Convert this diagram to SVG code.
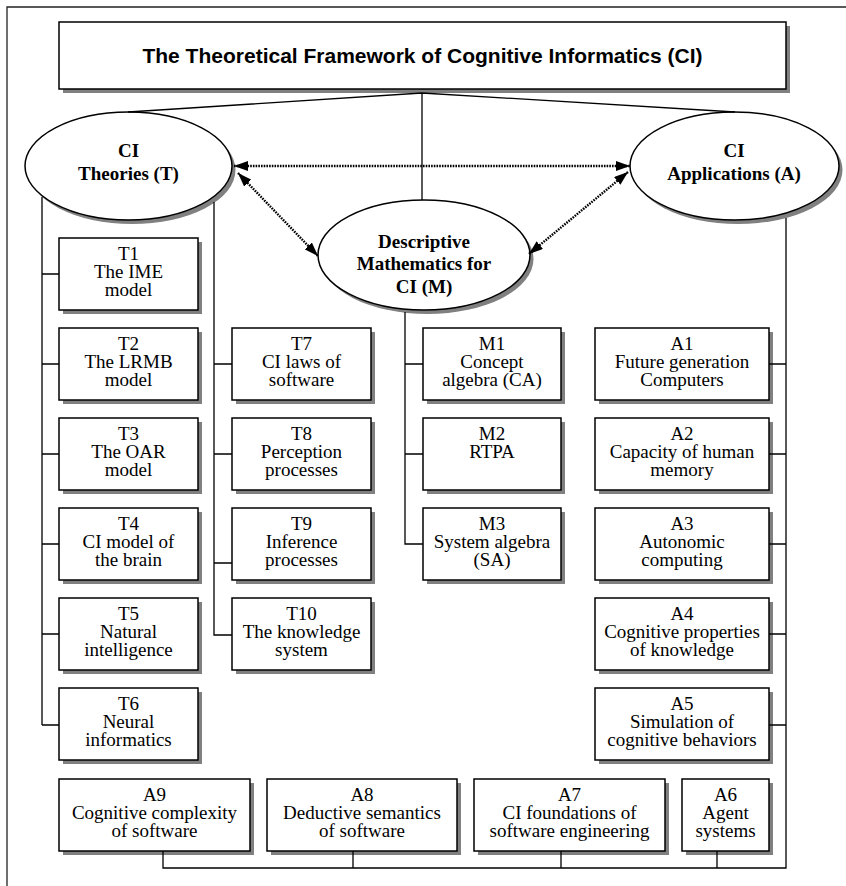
<svg xmlns="http://www.w3.org/2000/svg" width="846" height="886" viewBox="0 0 846 886">
<style>
.frame{fill:none;stroke:#222;stroke-width:1.3}
.box{fill:#fff;stroke:#000;stroke-width:1.5}
.shadow{fill:#808080;stroke:none}
.ell{fill:#fff;stroke:#000;stroke-width:1.5}
.line{fill:none;stroke:#000;stroke-width:1.3}
.dot{fill:none;stroke:#000;stroke-width:2.4;stroke-dasharray:1.6 1.1}
.title{font-family:"Liberation Sans",Arial,sans-serif;font-weight:bold;font-size:21px;text-anchor:middle;fill:#000}
.et{font-family:"Liberation Serif","Times New Roman",serif;font-weight:bold;font-size:19px;text-anchor:middle;fill:#000}
.bt{font-family:"Liberation Serif","Times New Roman",serif;font-size:19px;text-anchor:middle;fill:#000}
</style>
<defs>
<marker id="ah" viewBox="0 0 14 10" refX="14" refY="5" markerWidth="14" markerHeight="10" markerUnits="userSpaceOnUse" orient="auto-start-reverse">
<path d="M0,0 L14,5 L0,10 z" fill="#000"/>
</marker>
</defs>
<rect width="846" height="886" fill="#fff"/>
<path class="frame" d="M7,886 V7 H846"/>

<g id="title">
<rect class="shadow" x="63" y="26" width="727" height="67"/>
<rect class="box" x="59" y="22" width="727" height="67"/>
<text class="title" x="422.5" y="63">The Theoretical Framework of Cognitive Informatics (CI)</text>
</g>

<g id="theories">
<ellipse class="shadow" cx="132" cy="170" rx="103.5" ry="54"/>
<ellipse class="ell" cx="128.5" cy="166" rx="103.5" ry="54"/>
<text class="et" x="128.5" y="157">CI</text>
<text class="et" x="128.5" y="180">Theories (T)</text>
</g>

<g id="applications">
<ellipse class="shadow" cx="738" cy="170" rx="104.5" ry="54"/>
<ellipse class="ell" cx="734.5" cy="166" rx="104.5" ry="54"/>
<text class="et" x="734" y="157">CI</text>
<text class="et" x="734" y="180">Applications (A)</text>
</g>

<g id="mathematics">
<ellipse class="shadow" cx="427.5" cy="259" rx="106" ry="55"/>
<ellipse class="ell" cx="424" cy="255" rx="106" ry="55"/>
<text class="et" x="424" y="248">Descriptive</text>
<text class="et" x="424" y="270">Mathematics for</text>
<text class="et" x="424" y="293">CI (M)</text>
</g>

<g id="T1"><rect class="shadow" x="63" y="242" width="139" height="72"/><rect class="box" x="59" y="238" width="139" height="72"/>
<text class="bt" x="128.5" y="260">T1</text><text class="bt" x="128.5" y="278">The IME</text><text class="bt" x="128.5" y="296">model</text></g>
<g id="T2"><rect class="shadow" x="63" y="332" width="139" height="72"/><rect class="box" x="59" y="328" width="139" height="72"/>
<text class="bt" x="128.5" y="350">T2</text><text class="bt" x="128.5" y="368">The LRMB</text><text class="bt" x="128.5" y="386">model</text></g>
<g id="T3"><rect class="shadow" x="63" y="422" width="139" height="72"/><rect class="box" x="59" y="418" width="139" height="72"/>
<text class="bt" x="128.5" y="440">T3</text><text class="bt" x="128.5" y="458">The OAR</text><text class="bt" x="128.5" y="476">model</text></g>
<g id="T4"><rect class="shadow" x="63" y="512" width="139" height="72"/><rect class="box" x="59" y="508" width="139" height="72"/>
<text class="bt" x="128.5" y="530">T4</text><text class="bt" x="128.5" y="548">CI model of</text><text class="bt" x="128.5" y="566">the brain</text></g>
<g id="T5"><rect class="shadow" x="63" y="602" width="139" height="72"/><rect class="box" x="59" y="598" width="139" height="72"/>
<text class="bt" x="128.5" y="620">T5</text><text class="bt" x="128.5" y="638">Natural</text><text class="bt" x="128.5" y="656">intelligence</text></g>
<g id="T6"><rect class="shadow" x="63" y="692" width="139" height="72"/><rect class="box" x="59" y="688" width="139" height="72"/>
<text class="bt" x="128.5" y="710">T6</text><text class="bt" x="128.5" y="728">Neural</text><text class="bt" x="128.5" y="746">informatics</text></g>

<g id="T7"><rect class="shadow" x="236" y="332" width="139" height="72"/><rect class="box" x="232" y="328" width="139" height="72"/>
<text class="bt" x="301.5" y="350">T7</text><text class="bt" x="301.5" y="368">CI laws of</text><text class="bt" x="301.5" y="386">software</text></g>
<g id="T8"><rect class="shadow" x="236" y="422" width="139" height="72"/><rect class="box" x="232" y="418" width="139" height="72"/>
<text class="bt" x="301.5" y="440">T8</text><text class="bt" x="301.5" y="458">Perception</text><text class="bt" x="301.5" y="476">processes</text></g>
<g id="T9"><rect class="shadow" x="236" y="512" width="139" height="72"/><rect class="box" x="232" y="508" width="139" height="72"/>
<text class="bt" x="301.5" y="530">T9</text><text class="bt" x="301.5" y="548">Inference</text><text class="bt" x="301.5" y="566">processes</text></g>
<g id="T10"><rect class="shadow" x="236" y="602" width="139" height="72"/><rect class="box" x="232" y="598" width="139" height="72"/>
<text class="bt" x="301.5" y="620">T10</text><text class="bt" x="301.5" y="638">The knowledge</text><text class="bt" x="301.5" y="656">system</text></g>

<g id="M1"><rect class="shadow" x="427" y="332" width="138" height="72"/><rect class="box" x="423" y="328" width="138" height="72"/>
<text class="bt" x="492" y="350">M1</text><text class="bt" x="492" y="368">Concept</text><text class="bt" x="492" y="386">algebra (CA)</text></g>
<g id="M2"><rect class="shadow" x="427" y="422" width="138" height="72"/><rect class="box" x="423" y="418" width="138" height="72"/>
<text class="bt" x="492" y="440">M2</text><text class="bt" x="492" y="458">RTPA</text></g>
<g id="M3"><rect class="shadow" x="427" y="512" width="138" height="72"/><rect class="box" x="423" y="508" width="138" height="72"/>
<text class="bt" x="492" y="530">M3</text><text class="bt" x="492" y="548">System algebra</text><text class="bt" x="492" y="566">(SA)</text></g>

<g id="A1"><rect class="shadow" x="599" y="332" width="174" height="72"/><rect class="box" x="595" y="328" width="174" height="72"/>
<text class="bt" x="682" y="350">A1</text><text class="bt" x="682" y="368">Future generation</text><text class="bt" x="682" y="386">Computers</text></g>
<g id="A2"><rect class="shadow" x="599" y="422" width="174" height="72"/><rect class="box" x="595" y="418" width="174" height="72"/>
<text class="bt" x="682" y="440">A2</text><text class="bt" x="682" y="458">Capacity of human</text><text class="bt" x="682" y="476">memory</text></g>
<g id="A3"><rect class="shadow" x="599" y="512" width="174" height="72"/><rect class="box" x="595" y="508" width="174" height="72"/>
<text class="bt" x="682" y="530">A3</text><text class="bt" x="682" y="548">Autonomic</text><text class="bt" x="682" y="566">computing</text></g>
<g id="A4"><rect class="shadow" x="599" y="602" width="174" height="72"/><rect class="box" x="595" y="598" width="174" height="72"/>
<text class="bt" x="682" y="620">A4</text><text class="bt" x="682" y="638">Cognitive properties</text><text class="bt" x="682" y="656">of knowledge</text></g>
<g id="A5"><rect class="shadow" x="599" y="692" width="174" height="72"/><rect class="box" x="595" y="688" width="174" height="72"/>
<text class="bt" x="682" y="710">A5</text><text class="bt" x="682" y="728">Simulation of</text><text class="bt" x="682" y="746">cognitive behaviors</text></g>

<g id="A9"><rect class="shadow" x="63" y="783" width="191" height="72"/><rect class="box" x="59" y="779" width="191" height="72"/>
<text class="bt" x="154.5" y="801">A9</text><text class="bt" x="154.5" y="819">Cognitive complexity</text><text class="bt" x="154.5" y="837">of software</text></g>
<g id="A8"><rect class="shadow" x="271" y="783" width="190" height="72"/><rect class="box" x="267" y="779" width="190" height="72"/>
<text class="bt" x="362" y="801">A8</text><text class="bt" x="362" y="819">Deductive semantics</text><text class="bt" x="362" y="837">of software</text></g>
<g id="A7"><rect class="shadow" x="478" y="783" width="191" height="72"/><rect class="box" x="474" y="779" width="191" height="72"/>
<text class="bt" x="569.5" y="801">A7</text><text class="bt" x="569.5" y="819">CI foundations of</text><text class="bt" x="569.5" y="837">software engineering</text></g>
<g id="A6"><rect class="shadow" x="686" y="783" width="87" height="72"/><rect class="box" x="682" y="779" width="87" height="72"/>
<text class="bt" x="725.5" y="801">A6</text><text class="bt" x="725.5" y="819">Agent</text><text class="bt" x="725.5" y="837">systems</text></g>

<g id="connectors">
<path class="line" d="M422,93 L128,112 M422,93 L735,112 M422,93 V200"/>
<path class="line" d="M42,197 V725 M42,274 H59 M42,364 H59 M42,454 H59 M42,544 H59 M42,634 H59 M42,725 H59"/>
<path class="line" d="M214,202 V635 H232 M214,364 H232 M214,454 H232 M214,563 H232"/>
<path class="line" d="M405,312 V544 H423 M405,364 H423 M405,454 H423"/>
<path class="line" d="M786,218 V868 H163 V851 M769,364 H786 M769,454 H786 M769,544 H786 M769,634 H786 M769,725 H786 M353,868 V851 M561,868 V851 M717,868 V851"/>
<line class="dot" x1="234" y1="166" x2="630" y2="166" marker-start="url(#ah)" marker-end="url(#ah)"/>
<line class="dot" x1="238" y1="173" x2="318" y2="256" marker-start="url(#ah)" marker-end="url(#ah)"/>
<line class="dot" x1="529" y1="254" x2="628" y2="172" marker-start="url(#ah)" marker-end="url(#ah)"/>
</g>
</svg>
